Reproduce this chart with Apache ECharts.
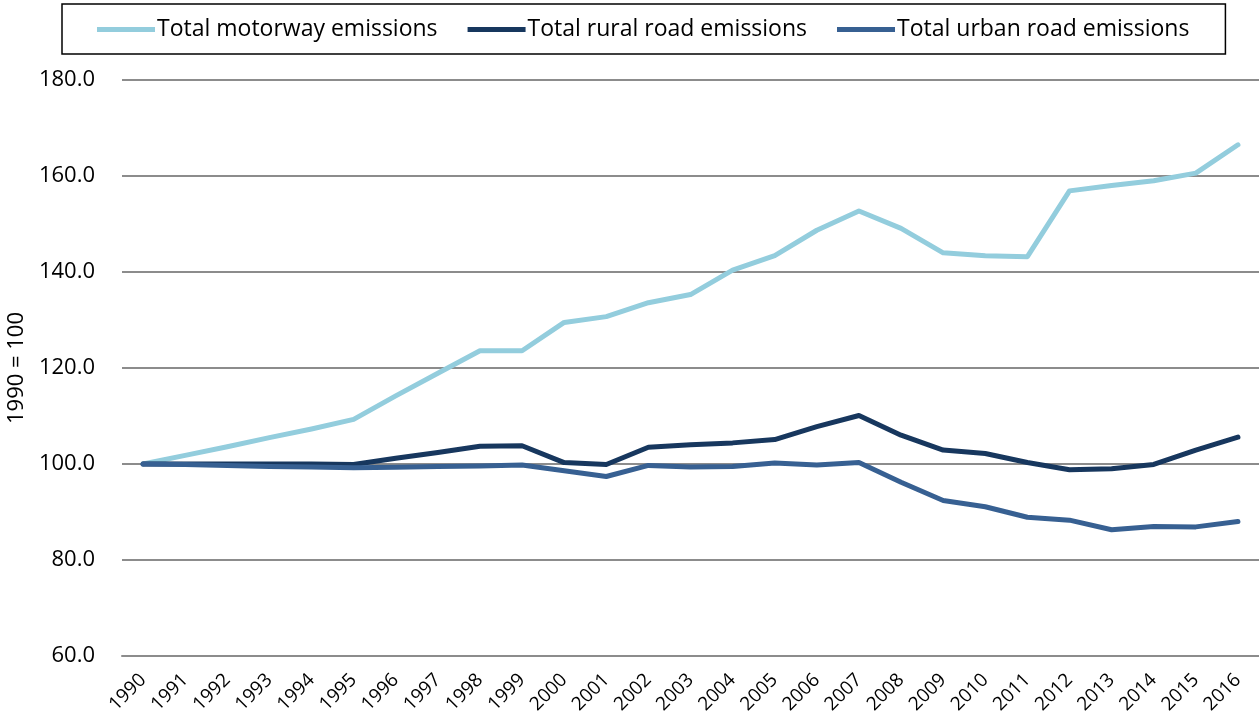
<!DOCTYPE html>
<html>
<head>
<meta charset="utf-8">
<script src="https://cdn.jsdelivr.net/npm/echarts@6/dist/echarts.min.js"></script>
<style>
  html, body { margin: 0; padding: 0; background: #fff; }
  #chart { width: 1259px; height: 724px; }
</style>
</head>
<body>
<div id="chart"></div>
<script>
const years = ['1990', '1991', '1992', '1993', '1994', '1995', '1996', '1997', '1998', '1999',
    '2000', '2001', '2002', '2003', '2004', '2005', '2006', '2007', '2008', '2009',
    '2010', '2011', '2012', '2013', '2014', '2015', '2016'];

const motorway = [100.0, 101.8, 103.6, 105.5, 107.3, 109.3, 114.2, 118.9, 123.6, 123.6,
    129.5, 130.7, 133.6, 135.3, 140.4, 143.4, 148.7, 152.7, 149.1, 144.0,
    143.4, 143.2, 156.9, 158.0, 159.0, 160.6, 166.5];

const rural = [100.0, 100.0, 100.0, 100.0, 100.0, 99.9, 101.2, 102.4, 103.7, 103.8,
    100.3, 99.9, 103.5, 104.0, 104.4, 105.1, 107.8, 110.1, 106.0, 102.9,
    102.2, 100.3, 98.8, 99.0, 99.9, 102.9, 105.6];

const urban = [100.0, 99.9, 99.7, 99.5, 99.4, 99.2, 99.3, 99.5, 99.6, 99.8,
    98.6, 97.4, 99.7, 99.4, 99.5, 100.2, 99.8, 100.3, 96.2, 92.4,
    91.1, 88.9, 88.3, 86.3, 87.0, 86.9, 88.0];

const seriesNames = ['Total motorway emissions', 'Total rural road emissions', 'Total urban road emissions'];
const colors = ['#93CDDD', '#17375E', '#376092'];

const font = '"Open Sans", sans-serif';

const myChart = echarts.init(document.getElementById('chart'));

function lineSeries(name, data, color) {
    return {
        name: name,
        type: 'line',
        data: data,
        showSymbol: false,
        symbol: 'none',
        lineStyle: { color: color, width: 5, cap: 'round', join: 'round' },
        itemStyle: { color: color }
    };
}

const option = {
    animation: false,
    color: colors,
    legend: {
        left: 62,
        top: 4,
        icon: 'rect',
        itemWidth: 58,
        itemHeight: 5,
        itemGap: 30,
        padding: [14, 36, 13, 35],
        borderColor: '#000',
        borderWidth: 1.5,
        textStyle: { fontFamily: font, fontSize: 23, color: '#000', padding: [0, 0, 0, -3] },
        data: seriesNames
    },
    grid: {
        left: 122,
        right: 0,
        top: 80,
        bottom: 68,
        outerBoundsMode: 'none'
    },
    xAxis: {
        type: 'category',
        data: years,
        boundaryGap: true,
        axisLine: { show: true, lineStyle: { color: '#8C8C8C', width: 2 } },
        axisTick: { show: false },
        axisLabel: {
            rotate: 45,
            interval: 0,
            margin: 21,
            fontFamily: font,
            fontSize: 19,
            color: '#000'
        }
    },
    yAxis: {
        type: 'value',
        min: 60,
        max: 180,
        interval: 20,
        name: '1990 = 100',
        nameLocation: 'middle',
        nameGap: 92,
        nameRotate: 90,
        nameTextStyle: { fontFamily: font, fontSize: 22, color: '#000' },
        axisLine: { show: false },
        axisTick: { show: false },
        axisLabel: {
            margin: 27,
            fontFamily: font,
            fontSize: 22,
            color: '#000',
            formatter: function (v) { return v.toFixed(1); }
        },
        splitLine: { lineStyle: { color: '#8C8C8C', width: 2 } }
    },
    series: [
        lineSeries(seriesNames[0], motorway, colors[0]),
        lineSeries(seriesNames[1], rural, colors[1]),
        lineSeries(seriesNames[2], urban, colors[2])
    ]
};

myChart.setOption(option);
</script>
</body>
</html>
